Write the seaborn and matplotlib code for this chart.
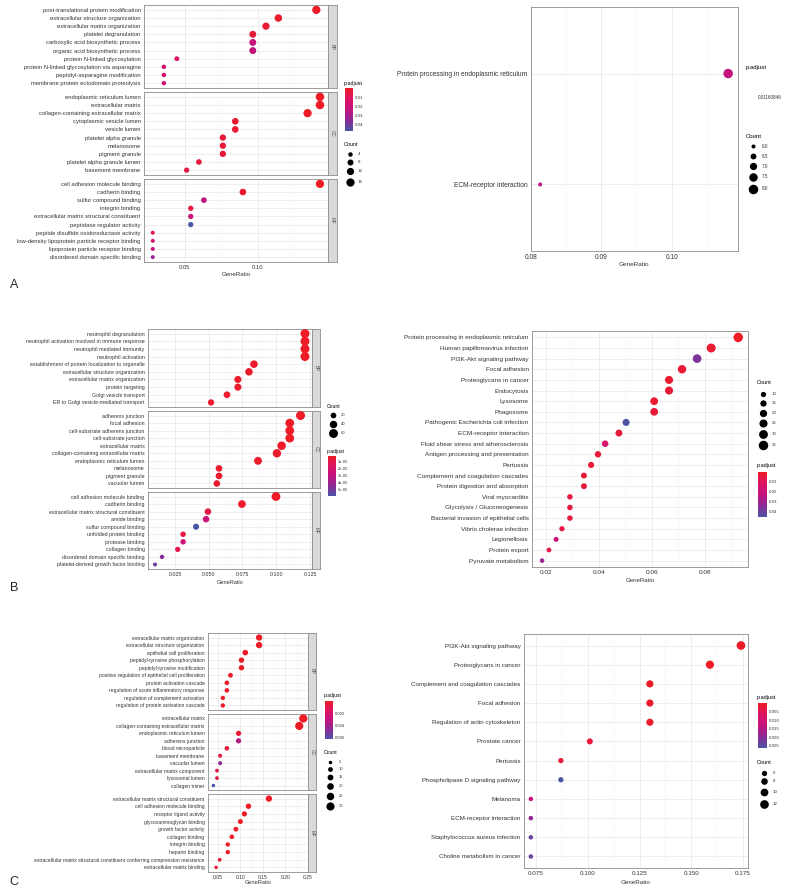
#%% Package Imports

import numpy as np
import pandas as pd
import matplotlib
matplotlib.use('Agg')
import matplotlib.pyplot as plt
import seaborn as sns
from matplotlib.colors import LinearSegmentedColormap, Normalize
from matplotlib.ticker import MultipleLocator, FormatStrFormatter

#%% Panel A - GO terms

a_bp_terms = ['post-translational protein modification', 'extracellular structure organization',
    'extracellular matrix organization', 'platelet degranulation', 'carboxylic acid biosynthetic process',
    'organic acid biosynthetic process', 'protein N-linked glycosylation',
    'protein N-linked glycosylation via asparagine', 'peptidyl-asparagine modification',
    'membrane protein ectodomain proteolysis']
a_bp_ratio = [0.140, 0.114, 0.1055, 0.0965, 0.0965, 0.0965, 0.0445, 0.0356, 0.0356, 0.0356]
a_bp_count = [16, 13, 12, 11, 11, 11, 5, 4, 4, 4]
a_bp_padj = [0.0004, 0.002, 0.003, 0.004, 0.022, 0.022, 0.012, 0.016, 0.016, 0.019]

a_cc_terms = ['endoplasmic reticulum lumen', 'extracellular matrix', 'collagen-containing extracellular matrix',
    'cytoplasmic vesicle lumen', 'vesicle lumen', 'platelet alpha granule', 'melanosome', 'pigment granule',
    'platelet alpha granule lumen', 'basement membrane']
a_cc_ratio = [0.1425, 0.1425, 0.134, 0.0845, 0.0845, 0.076, 0.076, 0.076, 0.0596, 0.0512]
a_cc_count = [17, 17, 16, 10, 10, 9, 9, 9, 7, 6]
a_cc_padj = [0.0003, 0.0003, 0.0005, 0.003, 0.003, 0.004, 0.004, 0.004, 0.005, 0.006]

a_mf_terms = ['cell adhesion molecule binding', 'cadherin binding', 'sulfur compound binding', 'integrin binding',
    'extracellular matrix structural constituent', 'peptidase regulator activity',
    'peptide disulfide oxidoreductase activity', 'low-density lipoprotein particle receptor binding',
    'lipoprotein particle receptor binding', 'disordered domain specific binding']
a_mf_ratio = [0.1425, 0.0897, 0.063, 0.054, 0.054, 0.054, 0.028, 0.028, 0.028, 0.028]
a_mf_count = [16, 10, 7, 6, 6, 6, 3, 3, 3, 3]
a_mf_padj = [0.0002, 0.002, 0.024, 0.006, 0.021, 0.047, 0.007, 0.017, 0.021, 0.030]

a_go_count_breaks = [4, 8, 12, 16]
a_go_padj_ticks = [0.01, 0.02, 0.03, 0.04]

#%% Panel A - KEGG

a_kegg_terms = ['Protein processing in endoplasmic reticulum', 'ECM-receptor interaction']
a_kegg_ratio = [0.108, 0.0813]
a_kegg_count = [8, 6]
a_kegg_padj = [0.01160846, 0.01160846]
a_kegg_count_breaks = [6.0, 6.5, 7.0, 7.5, 8.0]

#%% Panel B - GO terms

b_bp_terms = ['neutrophil degranulation', 'neutrophil activation involved in immune response',
    'neutrophil mediated immunity', 'neutrophil activation', 'establishment of protein localization to organelle',
    'extracellular structure organization', 'extracellular matrix organization', 'protein targeting',
    'Golgi vesicle transport', 'ER to Golgi vesicle-mediated transport']
b_bp_ratio = [0.1213, 0.1213, 0.1213, 0.1213, 0.0835, 0.0798, 0.0716, 0.0716, 0.0635, 0.0517]
b_bp_count = [60, 60, 60, 60, 41, 40, 35, 35, 31, 26]
b_bp_padj = [1.5e-6, 1.5e-6, 1.5e-6, 1.5e-6, 2e-6, 2e-6, 2.5e-6, 2.5e-6, 3e-6, 3e-6]

b_cc_terms = ['adherens junction', 'focal adhesion', 'cell-substrate adherens junction', 'cell-substrate junction',
    'extracellular matrix', 'collagen-containing extracellular matrix', 'endoplasmic reticulum lumen',
    'melanosome', 'pigment granule', 'vacuolar lumen']
b_cc_ratio = [0.118, 0.110, 0.110, 0.110, 0.104, 0.1005, 0.0865, 0.0576, 0.0576, 0.056]
b_cc_count = [61, 57, 57, 57, 54, 52, 45, 30, 30, 29]
b_cc_padj = [1.5e-6, 1.5e-6, 1.5e-6, 1.5e-6, 2e-6, 2e-6, 2.5e-6, 3e-6, 3e-6, 3.5e-6]

b_mf_terms = ['cell adhesion molecule binding', 'cadherin binding', 'extracellular matrix structural constituent',
    'amide binding', 'sulfur compound binding', 'unfolded protein binding', 'protease binding',
    'collagen binding', 'disordered domain specific binding', 'platelet-derived growth factor binding']
b_mf_ratio = [0.0998, 0.0746, 0.0494, 0.048, 0.0406, 0.031, 0.031, 0.027, 0.0154, 0.0102]
b_mf_count = [58, 43, 29, 28, 24, 18, 18, 16, 9, 6]
b_mf_padj = [2e-6, 3e-6, 1e-5, 2.6e-5, 5.9e-5, 8e-6, 2.4e-5, 9e-6, 4.6e-5, 5.2e-5]

b_go_count_breaks = [20, 40, 60]
b_go_padj_ticks = [1e-5, 2e-5, 3e-5, 4e-5, 5e-5]
b_go_padj_labels = ['1e-05', '2e-05', '3e-05', '4e-05', '5e-05']

#%% Panel B - KEGG

b_kegg_terms = ['Protein processing in endoplasmic reticulum', 'Human papillomavirus infection',
    'PI3K-Akt signaling pathway', 'Focal adhesion', 'Proteoglycans in cancer', 'Endocytosis', 'Lysosome',
    'Phagosome', 'Pathogenic Escherichia coli infection', 'ECM-receptor interaction',
    'Fluid shear stress and atherosclerosis', 'Antigen processing and presentation', 'Pertussis',
    'Complement and coagulation cascades', 'Protein digestion and absorption', 'Viral myocarditis',
    'Glycolysis / Gluconeogenesis', 'Bacterial invasion of epithelial cells', 'Vibrio cholerae infection',
    'Legionellosis', 'Protein export', 'Pyruvate metabolism']
b_kegg_ratio = [0.0925, 0.0823, 0.077, 0.0713, 0.0664, 0.0664, 0.0608, 0.0608, 0.0502, 0.0475, 0.0423,
    0.0396, 0.037, 0.0343, 0.0343, 0.029, 0.029, 0.029, 0.026, 0.0238, 0.0211, 0.0185]
b_kegg_count = [35, 31, 29, 27, 25, 25, 23, 23, 19, 18, 16, 15, 14, 13, 13, 11, 11, 11, 10, 9, 8, 7]
b_kegg_padj = [0.0005, 0.002, 0.036, 0.003, 0.002, 0.003, 0.002, 0.003, 0.044, 0.004, 0.014, 0.003,
    0.004, 0.004, 0.004, 0.005, 0.005, 0.005, 0.006, 0.021, 0.006, 0.031]
b_kegg_count_breaks = [10, 15, 20, 25, 30, 35]
b_kegg_padj_ticks = [0.01, 0.02, 0.03, 0.04]

#%% Panel C - GO terms

c_bp_terms = ['extracellular matrix organization', 'extracellular structure organization',
    'epithelial cell proliferation', 'peptidyl-tyrosine phosphorylation', 'peptidyl-tyrosine modification',
    'positive regulation of epithelial cell proliferation', 'protein activation cascade',
    'regulation of acute inflammatory response', 'regulation of complement activation',
    'regulation of protein activation cascade']
c_bp_ratio = [0.1417, 0.1417, 0.111, 0.1025, 0.1025, 0.078, 0.070, 0.070, 0.061, 0.061]
c_bp_count = [18, 18, 14, 13, 13, 10, 9, 9, 8, 8]
c_bp_padj = [1e-5, 1e-5, 2e-5, 3e-5, 3e-5, 5e-5, 6e-5, 6e-5, 8e-5, 8e-5]

c_cc_terms = ['extracellular matrix', 'collagen-containing extracellular matrix', 'endoplasmic reticulum lumen',
    'adherens junction', 'blood microparticle', 'basement membrane', 'vacuolar lumen',
    'extracellular matrix component', 'lysosomal lumen', 'collagen trimer']
c_cc_ratio = [0.240, 0.231, 0.096, 0.096, 0.070, 0.055, 0.055, 0.048, 0.048, 0.040]
c_cc_count = [31, 30, 12, 12, 9, 7, 7, 6, 6, 5]
c_cc_padj = [1e-8, 1e-8, 0.0004, 0.0036, 0.0006, 0.0008, 0.0047, 0.0009, 0.0009, 0.0063]

c_mf_terms = ['extracellular matrix structural constituent', 'cell adhesion molecule binding',
    'receptor ligand activity', 'glycosaminoglycan binding', 'growth factor activity', 'collagen binding',
    'integrin binding', 'heparin binding',
    'extracellular matrix structural constituent conferring compression resistance',
    'extracellular matrix binding']
c_mf_ratio = [0.1635, 0.118, 0.109, 0.100, 0.090, 0.081, 0.072, 0.072, 0.054, 0.046]
c_mf_count = [18, 13, 12, 11, 10, 9, 8, 8, 6, 5]
c_mf_padj = [1e-7, 2e-5, 4e-5, 5e-5, 8e-5, 1e-4, 2e-4, 2e-4, 4e-4, 5e-4]

c_go_count_breaks = [5, 10, 15, 20, 25, 30]
c_go_padj_ticks = [0.002, 0.004, 0.006]

#%% Panel C - KEGG

c_kegg_terms = ['PI3K-Akt signaling pathway', 'Proteoglycans in cancer', 'Complement and coagulation cascades',
    'Focal adhesion', 'Regulation of actin cytoskeleton', 'Prostate cancer', 'Pertussis',
    'Phospholipase D signaling pathway', 'Melanoma', 'ECM-receptor interaction',
    'Staphylococcus aureus infection', 'Choline metabolism in cancer']
c_kegg_ratio = [0.174, 0.159, 0.130, 0.130, 0.130, 0.101, 0.087, 0.087, 0.0725, 0.0725, 0.0725, 0.0725]
c_kegg_count = [12, 11, 9, 9, 9, 7, 6, 6, 5, 5, 5, 5]
c_kegg_padj = [0.0001, 0.0002, 0.0003, 0.0008, 0.0012, 0.002, 0.002, 0.026, 0.012, 0.019, 0.023, 0.023]
c_kegg_count_breaks = [6, 8, 10, 12]
c_kegg_padj_ticks = [0.005, 0.010, 0.015, 0.020, 0.025]

#%% Style

sns.set_style('white')
plt.rcParams['font.family'] = ['Liberation Sans', 'DejaVu Sans']

W, H = 800, 891
fig = plt.figure(figsize = (W / 100, H / 100), dpi = 100)
padj_cmap = LinearSegmentedColormap.from_list('padj', ['#EE1C26', '#DC1566', '#C3137F', '#8B2A95', '#4A56A6'])
txt_col = '#333333'
border_col = '#8C8C8C'

def px_axes(x0, y0, x1, y1):
    return fig.add_axes([x0 / W, 1 - y1 / H, (x1 - x0) / W, (y1 - y0) / H])

def dot_axes(ax, terms, ratio, count, padj, hue_norm, size_norm, sizes, xlim, xstep, xfmt, fs, xlabels = True):
    df = pd.DataFrame({'Description': terms, 'GeneRatio': ratio, 'Count': count, 'p.adjust': padj})
    sns.scatterplot(data = df, x = 'GeneRatio', y = 'Description', hue = 'p.adjust', size = 'Count',
        palette = padj_cmap, hue_norm = hue_norm, sizes = sizes, size_norm = size_norm,
        linewidth = 0, legend = False, ax = ax, zorder = 3)
    ax.set_xlim(xlim)
    ax.set_ylim(len(terms) - 0.4, -0.6)
    ax.xaxis.set_major_locator(MultipleLocator(xstep))
    ax.xaxis.set_minor_locator(MultipleLocator(xstep / 2))
    ax.xaxis.set_major_formatter(FormatStrFormatter(xfmt))
    ax.grid(True, which = 'major', color = '#E8E8E8', linewidth = 0.5)
    ax.grid(True, which = 'minor', axis = 'x', color = '#F1F1F1', linewidth = 0.3)
    ax.set_axisbelow(True)
    ax.set_xlabel('')
    ax.set_ylabel('')
    ax.tick_params(axis = 'both', which = 'major', labelsize = fs, length = 1.5, width = 0.4,
        color = txt_col, labelcolor = txt_col, pad = 1)
    ax.tick_params(axis = 'x', which = 'minor', length = 0)
    if not xlabels:
        ax.tick_params(axis = 'x', which = 'major', length = 0, labelbottom = False)
    for s in ax.spines.values():
        s.set_color(border_col)
        s.set_linewidth(0.6)
    return ax

def strip_axes(x0, y0, x1, y1, label):
    sax = px_axes(x0, y0, x1, y1)
    sax.set_facecolor('#D9D9D9')
    sax.set_xticks([])
    sax.set_yticks([])
    for s in sax.spines.values():
        s.set_color(border_col)
        s.set_linewidth(0.6)
    sax.text(0.5, 0.5, label, rotation = -90, ha = 'center', va = 'center', fontsize = 3.3,
        color = '#4D4D4D', transform = sax.transAxes)

def padj_bar(x0, y0, x1, y1, hue_norm, values, ticks, labels, fs):
    cax = px_axes(x0, y0, x1, y1)
    grad = np.linspace(values[0], values[1], 256).reshape(-1, 1)
    cax.imshow(grad, cmap = padj_cmap, norm = Normalize(*hue_norm), aspect = 'auto',
        extent = (0, 1, values[1], values[0]), origin = 'upper')
    cax.set_xticks([])
    cax.yaxis.tick_right()
    cax.set_yticks(ticks)
    cax.set_yticklabels(labels)
    cax.tick_params(axis = 'y', length = 0, labelsize = fs, pad = 1.5, labelcolor = txt_col)
    for s in cax.spines.values():
        s.set_visible(False)

ov = fig.add_axes([0, 0, 1, 1], zorder = 10)
ov.set_xlim(0, W)
ov.set_ylim(H, 0)
ov.axis('off')

def count_legend(x, ys, breaks, labels, size_norm, sizes, fs, label_x):
    for y, b, lab in zip(ys, breaks, labels):
        s = sizes[0] + (b - size_norm[0]) / (size_norm[1] - size_norm[0]) * (sizes[1] - sizes[0])
        ov.scatter(x, y, s = s, color = 'black', linewidth = 0)
        ov.text(label_x, y, lab, fontsize = fs, color = txt_col, va = 'center', ha = 'left')

def title(x, y, s, fs = 3.9):
    ov.text(x, y, s, fontsize = fs, color = 'black', va = 'center', ha = 'left')

#%% Panel A left (GO)

a_hue = (0.0002, 0.047)
a_size_norm = (3, 17)
a_sizes = (8.3, 37.5)
a_xlim = (0.022, 0.148)
for (y0, y1), terms, ratio, count, padj, ont, last in [
        ((5, 88), a_bp_terms, a_bp_ratio, a_bp_count, a_bp_padj, 'BP', False),
        ((92, 175), a_cc_terms, a_cc_ratio, a_cc_count, a_cc_padj, 'CC', False),
        ((179, 262), a_mf_terms, a_mf_ratio, a_mf_count, a_mf_padj, 'MF', True)]:
    ax = px_axes(144, y0, 328, y1)
    dot_axes(ax, terms, ratio, count, padj, a_hue, a_size_norm, a_sizes, a_xlim, 0.05, '%.2f', 4.2, last)
    strip_axes(328, y0, 337, y1, ont)
ov.text(236, 275, 'GeneRatio', fontsize = 4.4, color = txt_col, ha = 'center', va = 'center')
title(344, 83, 'p.adjust')
padj_bar(345, 88, 353, 131, a_hue, a_hue, a_go_padj_ticks, ['0.01', '0.02', '0.03', '0.04'], 3.2)
title(344, 144, 'Count')
count_legend(350, [154, 162, 171, 182], a_go_count_breaks, ['4', '8', '12', '16'],
    a_size_norm, a_sizes, 3.2, 358)

#%% Panel A right (KEGG)

ak_p = a_kegg_padj[0]
ak_hue = (ak_p - 0.01, ak_p + 0.01)
ak_size_norm = (6, 8)
ak_sizes = (8.3, 46.8)
ax = px_axes(531, 7, 738, 251)
dot_axes(ax, a_kegg_terms, a_kegg_ratio, a_kegg_count, a_kegg_padj, ak_hue, ak_size_norm, ak_sizes,
    (0.0800, 0.1094), 0.01, '%.2f', 4.8)
ov.text(634, 265, 'GeneRatio', fontsize = 4.6, color = txt_col, ha = 'center', va = 'center')
title(746, 68, 'p.adjust', 4.3)
padj_bar(747, 73, 756, 121, ak_hue, (ak_p, ak_p), [ak_p], ['0.01160846'], 3.3)
title(746, 136, 'Count', 4.3)
count_legend(753, [146, 156, 166, 177, 189], a_kegg_count_breaks, ['6.0', '6.5', '7.0', '7.5', '8.0'],
    ak_size_norm, ak_sizes, 3.3, 762)

#%% Panel B left (GO)

b_hue = (1.4e-6, 5.9e-5)
b_size_norm = (6, 61)
b_sizes = (8.3, 42)
b_xlim = (0.005, 0.1265)
for (y0, y1), terms, ratio, count, padj, ont, last in [
        ((329, 407), b_bp_terms, b_bp_ratio, b_bp_count, b_bp_padj, 'BP', False),
        ((411, 488), b_cc_terms, b_cc_ratio, b_cc_count, b_cc_padj, 'CC', False),
        ((492, 569), b_mf_terms, b_mf_ratio, b_mf_count, b_mf_padj, 'MF', True)]:
    ax = px_axes(148, y0, 312, y1)
    dot_axes(ax, terms, ratio, count, padj, b_hue, b_size_norm, b_sizes, b_xlim, 0.025, '%.3f', 3.8, last)
    strip_axes(312, y0, 320, y1, ont)
ov.text(230, 582, 'GeneRatio', fontsize = 4.1, color = txt_col, ha = 'center', va = 'center')
title(327, 406, 'Count', 3.6)
count_legend(333, [415, 424, 433], b_go_count_breaks, ['20', '40', '60'], b_size_norm, b_sizes, 3.0, 341)
title(327, 451, 'p.adjust', 3.6)
padj_bar(328, 456, 336, 496, b_hue, b_hue, b_go_padj_ticks, b_go_padj_labels, 3.0)

#%% Panel B right (KEGG)

bk_hue = (0.0002, 0.045)
bk_size_norm = (7, 35)
bk_sizes = (10.5, 46.8)
ax = px_axes(532, 331, 748, 567)
dot_axes(ax, b_kegg_terms, b_kegg_ratio, b_kegg_count, b_kegg_padj, bk_hue, bk_size_norm, bk_sizes,
    (0.0147, 0.0962), 0.02, '%.2f', 4.55)
ov.text(640, 581, 'GeneRatio', fontsize = 4.4, color = txt_col, ha = 'center', va = 'center')
title(757, 383, 'Count', 4.0)
count_legend(763, [394, 403, 413, 423, 434, 445], b_kegg_count_breaks, ['10', '15', '20', '25', '30', '35'],
    bk_size_norm, bk_sizes, 3.2, 772)
title(757, 466, 'p.adjust', 4.0)
padj_bar(758, 472, 767, 517, bk_hue, bk_hue, b_kegg_padj_ticks, ['0.01', '0.02', '0.03', '0.04'], 3.2)

#%% Panel C left (GO)

c_hue = (1e-8, 0.0063)
c_size_norm = (5, 31)
c_sizes = (6.35, 35.7)
c_xlim = (0.028, 0.2505)
for (y0, y1), terms, ratio, count, padj, ont, last in [
        ((633, 710), c_bp_terms, c_bp_ratio, c_bp_count, c_bp_padj, 'BP', False),
        ((714, 790), c_cc_terms, c_cc_ratio, c_cc_count, c_cc_padj, 'CC', False),
        ((794, 872), c_mf_terms, c_mf_ratio, c_mf_count, c_mf_padj, 'MF', True)]:
    ax = px_axes(208, y0, 308, y1)
    dot_axes(ax, terms, ratio, count, padj, c_hue, c_size_norm, c_sizes, c_xlim, 0.05, '%.2f', 3.6, last)
    strip_axes(308, y0, 316, y1, ont)
ov.text(258, 883, 'GeneRatio', fontsize = 4.1, color = txt_col, ha = 'center', va = 'center')
title(324, 696, 'p.adjust', 3.6)
padj_bar(325, 701, 333, 739, c_hue, c_hue, c_go_padj_ticks, ['0.002', '0.004', '0.006'], 3.0)
title(324, 753, 'Count', 3.6)
count_legend(330, [762, 769, 777, 786, 796, 806], c_go_count_breaks, ['5', '10', '15', '20', '25', '30'],
    c_size_norm, c_sizes, 3.0, 339)

#%% Panel C right (KEGG)

ck_hue = (0.0001, 0.0262)
ck_size_norm = (5, 12)
ck_sizes = (10.5, 39)
ax = px_axes(524, 634, 748, 868)
dot_axes(ax, c_kegg_terms, c_kegg_ratio, c_kegg_count, c_kegg_padj, ck_hue, ck_size_norm, ck_sizes,
    (0.0692, 0.1774), 0.025, '%.3f', 4.5)
ov.text(636, 883, 'GeneRatio', fontsize = 4.5, color = txt_col, ha = 'center', va = 'center')
title(757, 697, 'p.adjust', 4.0)
padj_bar(758, 703, 767, 748, ck_hue, ck_hue, c_kegg_padj_ticks, ['0.005', '0.010', '0.015', '0.020', '0.025'], 3.2)
title(757, 763, 'Count', 4.0)
count_legend(764, [773, 781, 792, 804], c_kegg_count_breaks, ['6', '8', '10', '12'], ck_size_norm, ck_sizes, 3.2, 773)

#%% Panel letters

ov.text(14, 285, 'A', fontsize = 9, ha = 'center', va = 'center')
ov.text(14, 588, 'B', fontsize = 9, ha = 'center', va = 'center')
ov.text(14, 882, 'C', fontsize = 9, ha = 'center', va = 'center')

fig.savefig('out.png', dpi = 100)
